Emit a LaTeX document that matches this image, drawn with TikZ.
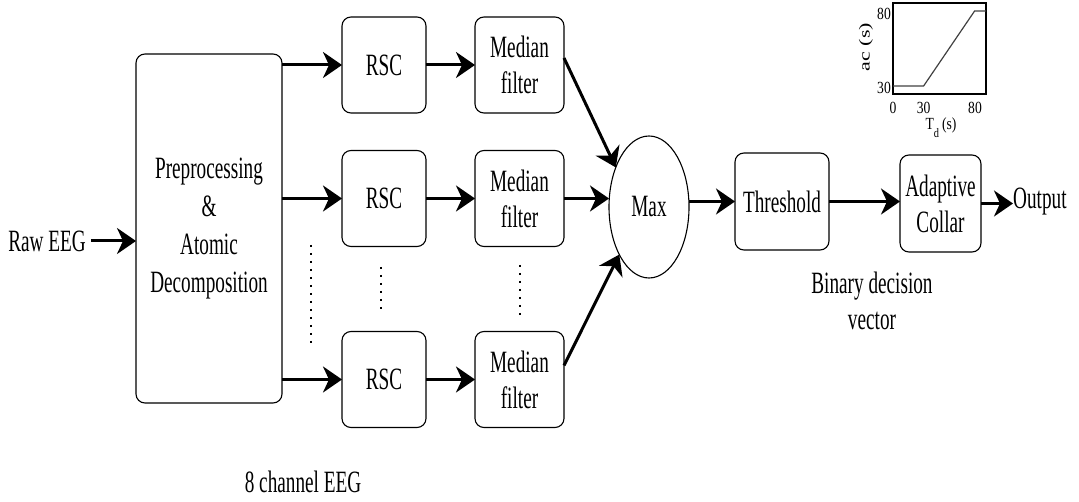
\documentclass[tikz,border=0pt]{standalone}
\usepackage{fontspec}
\usepackage{graphicx}
\setmainfont{Liberation Serif}[FakeStretch=0.62]
\newfontfamily\insetfont{Liberation Serif}[FakeStretch=0.8]
\newfontfamily\plainserif{Liberation Serif}
\usetikzlibrary{arrows.meta,shapes.geometric,calc}
\begin{document}
\begin{tikzpicture}[x=1pt,y=-1pt,
  font=\fontsize{31}{36}\selectfont,
  box/.style={draw, rounded corners=9pt, line width=1.1pt, align=center, inner sep=0pt, outer sep=0pt},
  arr/.style={line width=3pt, -{Stealth[length=19pt,width=26pt,inset=6pt]}},
  dots/.style={line width=2.2pt, dash pattern=on 2.5pt off 5.5pt},
  insetlbl/.style={font=\insetfont\fontsize{17}{17}\selectfont, inner sep=1pt}]
\useasboundingbox (0,0) rectangle (1079,502);

% main blocks
\node[box, minimum width=146pt, minimum height=349pt, font=\fontsize{31}{38}\selectfont] (pre) at (209,228.5) {Preprocessing\\\&\\Atomic\\Decomposition};
\node[inner sep=5pt] (raw) at (47,241) {Raw EEG};

\node[box, minimum width=84pt, minimum height=96pt] (r1) at (384,65) {RSC};
\node[box, minimum width=84pt, minimum height=96pt] (r2) at (384,198.5) {RSC};
\node[box, minimum width=84pt, minimum height=96pt] (r3) at (384,379.5) {RSC};

\node[box, minimum width=89pt, minimum height=96pt] (m1) at (519.5,65) {Median\\filter};
\node[box, minimum width=89pt, minimum height=96pt] (m2) at (519.5,198.5) {Median\\filter};
\node[box, minimum width=89pt, minimum height=96pt] (m3) at (519.5,379.5) {Median\\filter};

\node[draw, ellipse, minimum width=80pt, minimum height=142pt, inner sep=0pt, outer sep=0pt, line width=1.1pt] (max) at (649,207) {Max};

\node[box, minimum width=94pt, minimum height=97pt] (th) at (782,201.5) {Threshold};
\node[box, minimum width=81pt, minimum height=97pt] (ac) at (940.5,203.5) {Adaptive\\Collar};
\node[anchor=west, inner sep=0pt] (out) at (1013,202) {Output};

\node[align=center] (bdv) at (872,301) {Binary decision\\vector};
\node (ch) at (303,482) {8 channel EEG};

% connectors
\draw[arr] (raw.east) -- (raw.east -| pre.west);
\draw[arr] (pre.east |- r1.west) -- (r1.west);
\draw[arr] (pre.east |- r2.west) -- (r2.west);
\draw[arr] (pre.east |- r3.west) -- (r3.west);
\draw[arr] (r1.east) -- (m1.west);
\draw[arr] (r2.east) -- (m2.west);
\draw[arr] (r3.east) -- (m3.west);
\draw[arr] ([yshift=7pt]m1.east) -- (max.130);
\draw[arr] (m2.east) -- (m2.east -| max.west);
\draw[arr] ([yshift=14pt]m3.east) -- (max.238);
\draw[arr] (th.west -| max.east) -- (th.west);
\draw[arr] (th.east) -- (th.east -| ac.west);
\draw[arr] (ac.east) -- (ac.east -| out.west);

% dotted continuation marks
\draw[dots] (311,245) -- (311,343);
\draw[dots] (381,267) -- (381,314);
\draw[dots] (520,265) -- (520,318);

% inset plot
\draw[line width=1.4pt] (893,3) rectangle (986,94);
\draw[line width=1.2pt, black!75] (893,86) -- (923.6,86) -- (974.6,11) -- (986,11);
\node[insetlbl, anchor=east] (y80) at (892,14) {80};
\node[insetlbl, anchor=east] (y30) at (892,88) {30};
\node[insetlbl] (x0) at (893,107.5) {0};
\node[insetlbl] (x30) at (923.6,107.5) {30};
\node[insetlbl] (x80) at (975,107.5) {80};
\node[insetlbl] (xl) at (941,128) {T\raisebox{-8pt}{\fontsize{13}{13}\selectfont d}\,(s)};
\node[inner sep=0pt] (yl) at (866,47) {\scalebox{0.7}[1]{\rotatebox{90}{\plainserif\fontsize{22}{22}\selectfont ac (s)}}};
\end{tikzpicture}
\end{document}
